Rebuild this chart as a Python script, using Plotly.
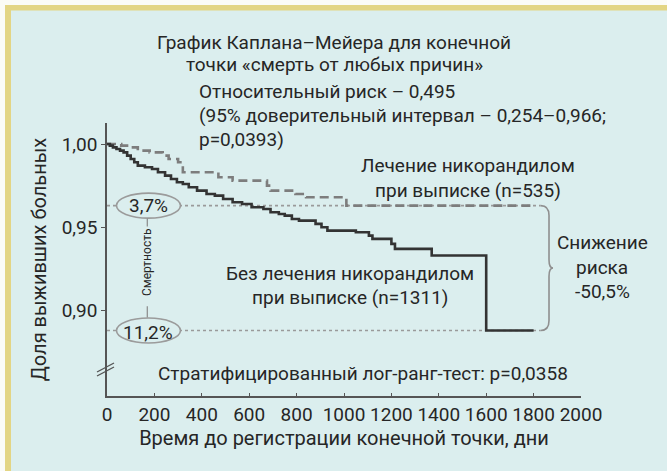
import plotly.graph_objects as go

# Kaplan–Meier survival, all-cause death
# Without nicorandil at discharge (n=1311)
no_nic_t = [0, 12, 25, 40, 55, 70, 85, 100, 115, 130, 160, 190, 215, 245, 270, 295, 320, 345,
            380, 420, 455, 490, 530, 570, 610, 660, 690, 725, 750, 780, 810, 880, 905, 930,
            1050, 1105, 1120, 1200, 1215, 1370, 1600, 1800]
no_nic_s = [1.000, 0.999, 0.998, 0.997, 0.996, 0.995, 0.993, 0.991, 0.989, 0.987, 0.986, 0.985,
            0.983, 0.981, 0.979, 0.977, 0.976, 0.974, 0.972, 0.970, 0.969, 0.967, 0.965, 0.964,
            0.962, 0.961, 0.959, 0.958, 0.957, 0.955, 0.954, 0.952, 0.950, 0.948, 0.947, 0.945,
            0.943, 0.940, 0.937, 0.933, 0.888, 0.888]

# With nicorandil at discharge (n=535)
nic_t = [0, 60, 100, 130, 180, 235, 260, 300, 320, 470, 530, 675, 690, 795, 840, 1010, 1800]
nic_s = [1.000, 0.999, 0.998, 0.996, 0.995, 0.993, 0.991, 0.989, 0.983, 0.980, 0.978, 0.975,
         0.972, 0.970, 0.968, 0.963, 0.963]

# Cumulative mortality at end of follow-up
mort_nic = 0.037
mort_no_nic = 0.112

x_ticks = [0, 200, 400, 600, 800, 1000, 1200, 1400, 1600, 1800, 2000]
y_ticks = [0.90, 0.95, 1.00]
y_tick_text = ["0,90", "0,95", "1,00"]

FONT = "Roboto, Liberation Sans, sans-serif"
TXT = "#262626"
BG = "#dbeeee"
YELLOW = "#e3d584"

FIG_W, FIG_H = 667, 471
L, R, T, B = 107, 86, 123, 75
W, H = FIG_W - L - R, FIG_H - T - B


def px(xp):
    return (xp - L) / W


def py(yp):
    return (T + H - yp) / H


fig = go.Figure()

# reference lines at the final mortality levels
ref_end = 1830
for m in (mort_nic, mort_no_nic):
    fig.add_trace(go.Scatter(x=[0, ref_end], y=[1 - m, 1 - m], mode="lines",
                             line=dict(color="#9a9a9a", width=1.6, dash="3px,3px"),
                             hoverinfo="skip", showlegend=False))

fig.add_trace(go.Scatter(x=nic_t, y=nic_s, mode="lines", line_shape="hv",
                         line=dict(color="#7d7d7d", width=2.6, dash="9px,5px"),
                         showlegend=False))
fig.add_trace(go.Scatter(x=no_nic_t, y=no_nic_s, mode="lines", line_shape="hv",
                         line=dict(color="#333333", width=2.6),
                         showlegend=False))

shapes = []
# page frame: white edge, yellow bands
shapes.append(dict(type="rect", xref="paper", yref="paper", x0=px(0), x1=px(FIG_W),
                   y0=py(0), y1=py(5), fillcolor="#fbfbf6", line_width=0, layer="above"))
shapes.append(dict(type="rect", xref="paper", yref="paper", x0=px(0), x1=px(5),
                   y0=py(0), y1=py(FIG_H), fillcolor="#fbfbf6", line_width=0, layer="above"))
shapes.append(dict(type="rect", xref="paper", yref="paper", x0=px(5), x1=px(FIG_W),
                   y0=py(5), y1=py(10.5), fillcolor=YELLOW, line_width=0, layer="above"))
shapes.append(dict(type="rect", xref="paper", yref="paper", x0=px(5), x1=px(11),
                   y0=py(5), y1=py(FIG_H), fillcolor=YELLOW, line_width=0, layer="above"))

# ellipses around the mortality figures
for m in (mort_nic, mort_no_nic):
    shapes.append(dict(type="circle", xref="x", yref="y",
                       x0=40, x1=310,
                       y0=1 - m - 0.0075, y1=1 - m + 0.0075,
                       line=dict(color="#9b9b9b", width=1.6), fillcolor=BG, layer="above"))

# connector for the "Смертность" label
xc = 170
shapes.append(dict(type="line", xref="x", yref="y", x0=xc, x1=xc, y0=1 - mort_nic - 0.0078,
                   y1=1 - mort_nic - 0.0125, line=dict(color="#8a8a8a", width=1.2), layer="above"))
shapes.append(dict(type="line", xref="x", yref="y", x0=xc, x1=xc, y0=1 - mort_no_nic + 0.0078,
                   y1=1 - mort_no_nic + 0.0145, line=dict(color="#8a8a8a", width=1.2), layer="above"))

# curly brace between the two mortality levels
bx, tip = 1865, 1882
ya, yb = 1 - mort_nic, 1 - mort_no_nic
ym = (ya + yb) / 2
brace = (f"M {ref_end},{ya} Q {bx},{ya} {bx},{ya - 0.006} "
         f"L {bx},{ym + 0.005} Q {bx},{ym} {tip},{ym} "
         f"Q {bx},{ym} {bx},{ym - 0.005} "
         f"L {bx},{yb + 0.006} Q {bx},{yb} {ref_end},{yb}")
shapes.append(dict(type="path", xref="x", yref="y", path=brace,
                   line=dict(color="#8f8f8f", width=1.6), layer="above"))

# axis break marks
for dy in (0, 4):
    shapes.append(dict(type="line", xref="paper", yref="paper",
                       x0=px(97), y0=py(376 - dy), x1=px(114), y1=py(367 - dy),
                       line=dict(color="#555555", width=1.4), layer="above"))

fig.update_layout(shapes=shapes)


def note(text, xp, yp, size=19, xanchor="center", align="center", **kw):
    fig.add_annotation(text=text, xref="paper", yref="paper", x=px(xp), y=py(yp),
                       xanchor=xanchor, yanchor="middle", align=align, showarrow=False,
                       font=dict(family=FONT, size=size, color=TXT), **kw)


note("График Каплана–Мейера для конечной", 334, 43)
note("точки «смерть от любых причин»", 334, 64)
note("Относительный риск – 0,495", 197, 91, xanchor="left")
note("(95% доверительный интервал – 0,254–0,966;", 197, 115, xanchor="left")
note("p=0,0393)", 197, 139, xanchor="left")
note("Лечение никорандилом", 468, 165)
note("при выписке (n=535)", 468, 190)
note("Без лечения никорандилом", 350, 273)
note("при выписке (n=1311)", 350, 297)
note("Снижение", 602, 242)
note("риска", 602, 267)
note("-50,5%", 602, 291)
note("Стратифицированный лог-ранг-тест: p=0,0358", 363, 373)
note(f"{mort_nic * 100:.1f}%".replace(".", ","), 148, 205)
note(f"{mort_no_nic * 100:.1f}%".replace(".", ","), 148, 332)
note("Смертность", 147, 263, size=12, textangle=-90)

fig.update_xaxes(range=[0, 2000], tickvals=x_ticks, ticktext=[str(v) for v in x_ticks],
                 tickangle=0,
                 showgrid=False, zeroline=False, showline=True, linecolor="#555555", linewidth=1.5,
                 ticks="inside", ticklen=3, tickcolor="#555555", tickwidth=1.2,
                 tickfont=dict(family=FONT, size=19, color=TXT),
                 title=dict(text="Время до регистрации конечной точки, дни",
                            font=dict(family=FONT, size=20, color=TXT), standoff=4))
fig.update_yaxes(range=[1 - (H - 21) / 1665, 1 + 21 / 1665], tickvals=y_ticks, ticktext=y_tick_text,
                 showgrid=False, zeroline=False, showline=True, linecolor="#555555", linewidth=1.5,
                 ticks="outside", ticklen=4, tickcolor="#555555", tickwidth=1.2,
                 tickfont=dict(family=FONT, size=19, color=TXT),
                 title=dict(text="Доля выживших больных",
                            font=dict(family=FONT, size=20, color=TXT), standoff=10))

fig.update_layout(width=FIG_W, height=FIG_H, margin=dict(l=L, r=R, t=T, b=B),
                  paper_bgcolor=BG, plot_bgcolor=BG, showlegend=False)

fig.write_html("out.html")
